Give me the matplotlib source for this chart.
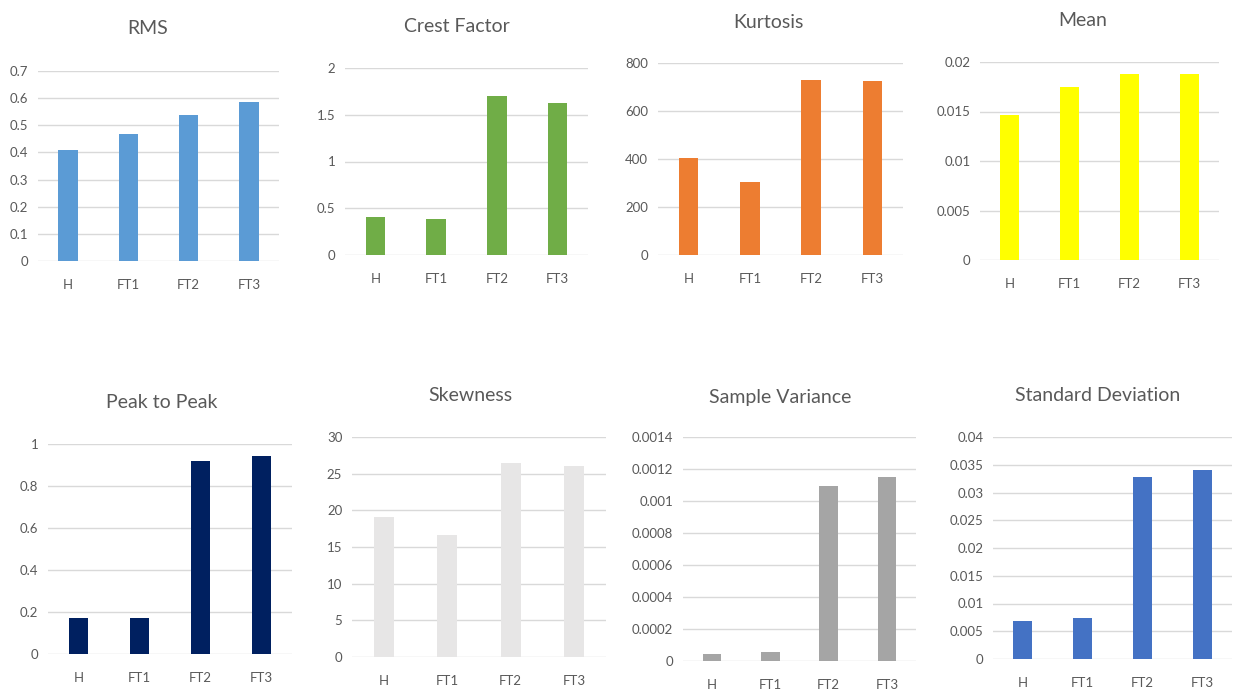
import matplotlib
matplotlib.use('Agg')
import matplotlib.pyplot as plt

plt.rcParams['font.family'] = ['Lato', 'DejaVu Sans']

categories = ['H', 'FT1', 'FT2', 'FT3']

titles = ['RMS', 'Crest Factor', 'Kurtosis', 'Mean',
          'Peak to Peak', 'Skewness', 'Sample Variance', 'Standard Deviation']

rms = [0.41, 0.468, 0.538, 0.585]
crest = [0.41, 0.38, 1.70, 1.63]
kurtosis = [406, 306, 730, 723]
mean = [0.0146, 0.0175, 0.0188, 0.0188]
p2p = [0.17, 0.17, 0.92, 0.944]
skewness = [19.1, 16.7, 26.4, 26.1]
variance = [0.000046, 0.000054, 0.001095, 0.001153]
stdev = [0.0069, 0.0074, 0.0328, 0.0341]

yticks = [
    ([0, 0.1, 0.2, 0.3, 0.4, 0.5, 0.6, 0.7], ['0', '0.1', '0.2', '0.3', '0.4', '0.5', '0.6', '0.7']),
    ([0, 0.5, 1, 1.5, 2], ['0', '0.5', '1', '1.5', '2']),
    ([0, 200, 400, 600, 800], ['0', '200', '400', '600', '800']),
    ([0, 0.005, 0.01, 0.015, 0.02], ['0', '0.005', '0.01', '0.015', '0.02']),
    ([0, 0.2, 0.4, 0.6, 0.8, 1], ['0', '0.2', '0.4', '0.6', '0.8', '1']),
    ([0, 5, 10, 15, 20, 25, 30], ['0', '5', '10', '15', '20', '25', '30']),
    ([0, 0.0002, 0.0004, 0.0006, 0.0008, 0.001, 0.0012, 0.0014],
     ['0', '0.0002', '0.0004', '0.0006', '0.0008', '0.001', '0.0012', '0.0014']),
    ([0, 0.005, 0.01, 0.015, 0.02, 0.025, 0.03, 0.035, 0.04],
     ['0', '0.005', '0.01', '0.015', '0.02', '0.025', '0.03', '0.035', '0.04']),
]

series = [rms, crest, kurtosis, mean, p2p, skewness, variance, stdev]
colors = ['#5B9BD5', '#70AD47', '#ED7D31', '#FFFF00',
          '#002060', '#E7E6E6', '#A5A5A5', '#4472C4']

# pixel boxes: left, right, top grid, zero line; title center x, y
W, H = 1234, 693
boxes = [
    (38, 279, 71, 261, 148, 28),
    (345, 588, 68, 255, 457, 27),
    (658, 903, 63, 255, 768, 22),
    (980, 1219, 62, 260, 1083, 20),
    (48, 292, 444, 654, 162, 403),
    (352, 606, 437, 657, 470, 395),
    (683, 916, 437, 661, 780, 397),
    (993, 1232, 437, 659, 1098, 395),
]

fig = plt.figure(figsize=(W / 100, H / 100), dpi=100)
txt = '#595959'
for i in range(8):
    l, r, t, b, tx, ty = boxes[i]
    ax = fig.add_axes([l / W, 1 - b / H, (r - l) / W, (b - t) / H])
    ax.bar(range(4), series[i], width=0.32, color=colors[i], zorder=3)
    ax.set_xlim(-0.5, 3.5)
    ax.set_ylim(0, yticks[i][0][-1])
    ax.set_yticks(yticks[i][0])
    ax.set_yticklabels(yticks[i][1])
    ax.set_xticks(range(4))
    ax.set_xticklabels(categories)
    ax.yaxis.grid(True, color='#D9D9D9', linewidth=1, zorder=0)
    for s in ax.spines.values():
        s.set_visible(False)
    ax.tick_params(axis='both', length=0, labelsize=9.5, labelcolor=txt)
    ax.tick_params(axis='y', pad=7)
    ax.tick_params(axis='x', pad=13)
    fig.text(tx / W, 1 - ty / H, titles[i], ha='center', va='center',
             fontsize=14, color=txt)

fig.savefig('out.png', dpi=100)
